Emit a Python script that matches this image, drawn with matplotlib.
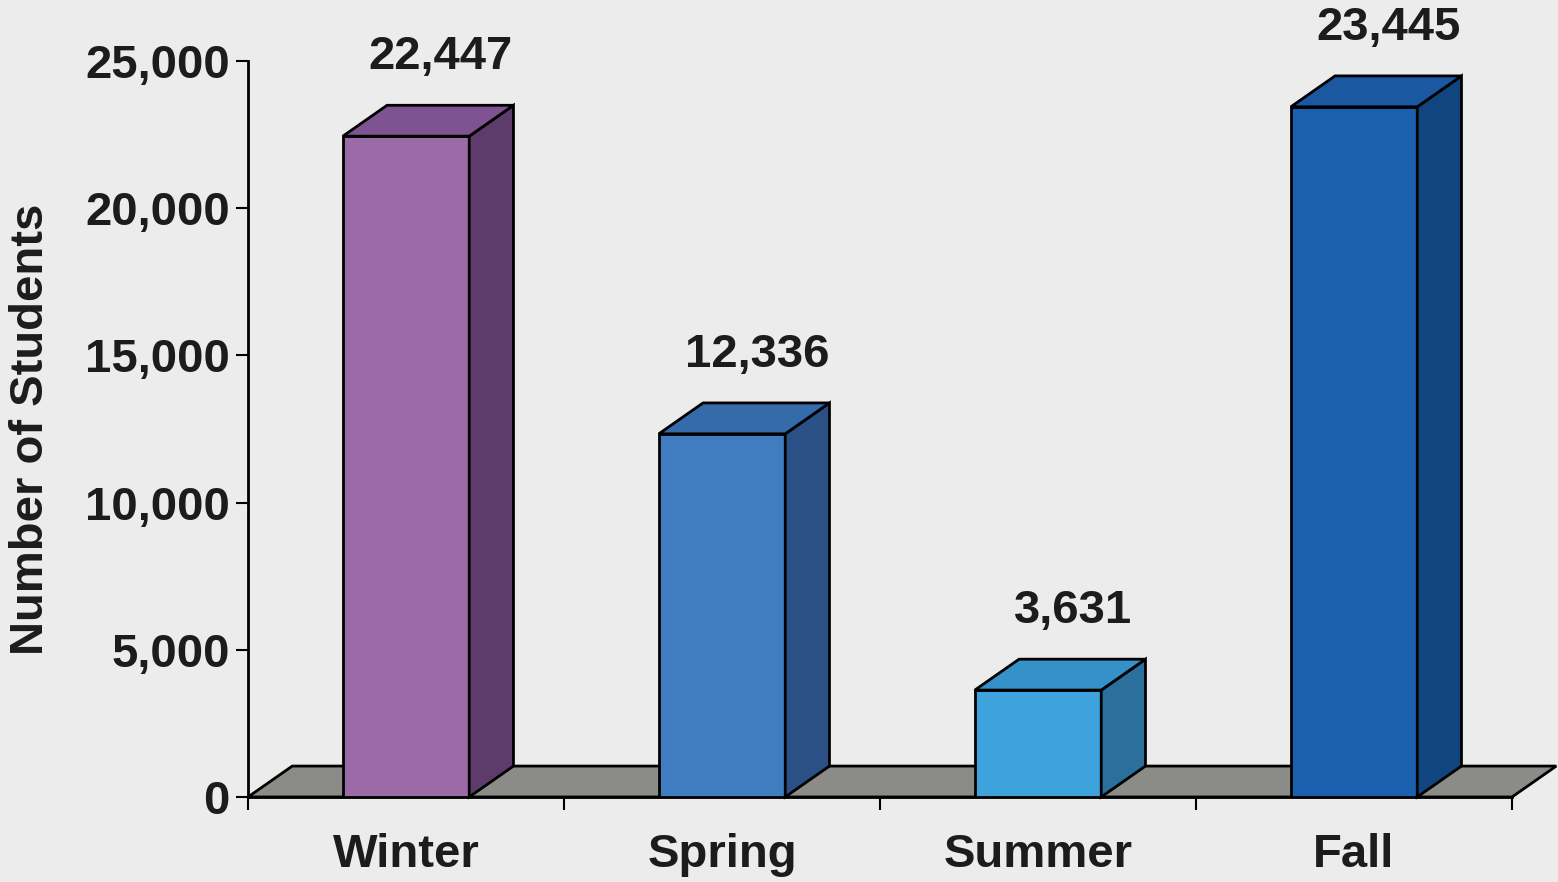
import matplotlib.pyplot as plt
from matplotlib.patches import Polygon
import numpy as np

seasons = ['Winter', 'Spring', 'Summer', 'Fall']
students = [22447, 12336, 3631, 23445]
yticks = [0, 5000, 10000, 15000, 20000, 25000]

front_colors = ['#9b6ba8', '#3f7dc0', '#3ea3dd', '#1b60ae']
side_colors = ['#5d3c6c', '#2a5086', '#2b6f9c', '#114580']
top_colors = ['#7f5392', '#356aab', '#3591ca', '#1a58a2']

plt.rcParams['font.family'] = ['Liberation Sans', 'DejaVu Sans']
plt.rcParams['font.weight'] = 'bold'
txt = '#1c1c1c'

fig = plt.figure(figsize=(15.58, 8.82), dpi=100, facecolor='#ececec')
ax = fig.add_axes([0.1592, 0.0964, 0.8113, 0.8344])
ax.set_facecolor('none')

w = 0.40      # bar width
dx = 0.14     # depth offset in x
dy = 1050     # depth offset in y

x = np.arange(len(seasons))

# floor
floor = Polygon([(-0.5, 0), (3.5, 0), (3.5 + dx, dy), (-0.5 + dx, dy)],
                closed=True, fc='#8b8c87', ec='black', lw=2, clip_on=False, zorder=1)
ax.add_patch(floor)

ax.bar(x, students, width=w, color=front_colors, edgecolor='black', linewidth=2, zorder=3)
for xi, v, sc, tc in zip(x, students, side_colors, top_colors):
    l, r = xi - w / 2, xi + w / 2
    side = Polygon([(r, 0), (r + dx, dy), (r + dx, v + dy), (r, v)], closed=True,
                   fc=sc, ec='black', lw=2, clip_on=False, zorder=3)
    top = Polygon([(l, v), (r, v), (r + dx, v + dy), (l + dx, v + dy)], closed=True,
                  fc=tc, ec='black', lw=2, clip_on=False, zorder=3)
    ax.add_patch(side)
    ax.add_patch(top)
    ax.text(xi + 0.11, v + dy + 880, f'{v:,}', ha='center', va='bottom',
            fontsize=34, fontweight='bold', color=txt)

ax.set_xlim(-0.5, 3.5)
ax.set_ylim(0, 25000)
ax.set_yticks(yticks, [f'{t:,}' for t in yticks])
ax.set_xticks([-0.5, 0.5, 1.5, 2.5, 3.5], [''] * 5)
ax.set_xticks(x, seasons, minor=True)
ax.tick_params(axis='x', which='major', length=9, width=1.5, direction='out')
ax.tick_params(axis='x', which='minor', length=0, pad=26, labelsize=34, labelcolor=txt)
ax.tick_params(axis='y', length=9, width=1.5, pad=4, labelsize=34, labelcolor=txt)

for s in ['top', 'right']:
    ax.spines[s].set_visible(False)
ax.spines['left'].set_linewidth(2)
ax.spines['bottom'].set_linewidth(2)

ax.set_ylabel('Number of Students', fontsize=34, fontweight='bold', color=txt, labelpad=23)

fig.savefig('out.png', dpi=100, facecolor=fig.get_facecolor())
